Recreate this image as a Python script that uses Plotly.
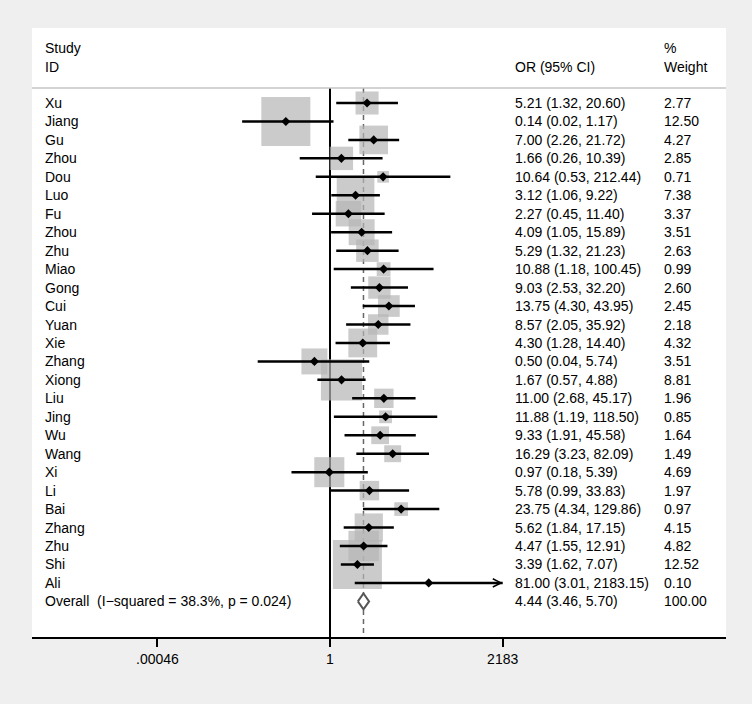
import numpy as np
import plotly.graph_objects as go

# ---------------- data ----------------
studies = ["Xu", "Jiang", "Gu", "Zhou", "Dou", "Luo", "Fu", "Zhou", "Zhu", "Miao",
           "Gong", "Cui", "Yuan", "Xie", "Zhang", "Xiong", "Liu", "Jing", "Wu", "Wang",
           "Xi", "Li", "Bai", "Zhang", "Zhu", "Shi", "Ali"]
or_est = [5.21, 0.14, 7.00, 1.66, 10.64, 3.12, 2.27, 4.09, 5.29, 10.88,
          9.03, 13.75, 8.57, 4.30, 0.50, 1.67, 11.00, 11.88, 9.33, 16.29,
          0.97, 5.78, 23.75, 5.62, 4.47, 3.39, 81.00]
ci_low = [1.32, 0.02, 2.26, 0.26, 0.53, 1.06, 0.45, 1.05, 1.32, 1.18,
          2.53, 4.30, 2.05, 1.28, 0.04, 0.57, 2.68, 1.19, 1.91, 3.23,
          0.18, 0.99, 4.34, 1.84, 1.55, 1.62, 3.01]
ci_high = [20.60, 1.17, 21.72, 10.39, 212.44, 9.22, 11.40, 15.89, 21.23, 100.45,
           32.20, 43.95, 35.92, 14.40, 5.74, 4.88, 45.17, 118.50, 45.58, 82.09,
           5.39, 33.83, 129.86, 17.15, 12.91, 7.07, 2183.15]
weights = [2.77, 12.50, 4.27, 2.85, 0.71, 7.38, 3.37, 3.51, 2.63, 0.99,
           2.60, 2.45, 2.18, 4.32, 3.51, 8.81, 1.96, 0.85, 1.64, 1.49,
           4.69, 1.97, 0.97, 4.15, 4.82, 12.52, 0.10]
overall_label = "Overall\u00a0\u00a0(I\u2212squared = 38.3%, p = 0.024)"
overall_est, overall_low, overall_high, overall_weight = 4.44, 3.46, 5.70, 100.00
null_value = 1
tick_vals = [0.00046, 1, 2183]
tick_text = [".00046", "1", "2183"]

# ---------------- layout constants ----------------
FONT = "Liberation Sans, Arial, Helvetica, sans-serif"
FS = 14
n = len(studies)
rows = list(range(n))
overall_row = n
y_top, y_bottom = -4.063, 28.93
sep_y = -0.813
x_range = [-5.762, 7.657]
BOX_K = 13.86  # px per sqrt(weight)

fig = go.Figure()

# reference line (OR = 1) and dashed overall line, below the boxes
fig.add_trace(go.Scatter(x=[null_value, null_value], y=[sep_y, y_bottom], mode="lines",
                         line=dict(color="black", width=2), hoverinfo="skip", showlegend=False))
fig.add_trace(go.Scatter(x=[overall_est, overall_est], y=[sep_y, y_bottom], mode="lines",
                         line=dict(color="#666666", width=1.5, dash="5px,4px"),
                         hoverinfo="skip", showlegend=False))

# weight boxes
fig.add_trace(go.Scatter(x=or_est, y=rows, mode="markers",
                         marker=dict(symbol="square", color="#b5b5b5",
                                     size=[BOX_K * np.sqrt(w) for w in weights],
                                     line=dict(width=0)),
                         hoverinfo="skip", showlegend=False))

# confidence interval lines
cx, cy = [], []
for i in rows:
    cx += [ci_low[i], ci_high[i], None]
    cy += [i, i, None]
fig.add_trace(go.Scatter(x=cx, y=cy, mode="lines", line=dict(color="black", width=2.5),
                         hoverinfo="skip", showlegend=False))

# point estimates
fig.add_trace(go.Scatter(x=or_est, y=rows, mode="markers",
                         marker=dict(symbol="diamond", color="black", size=7),
                         hoverinfo="skip", showlegend=False))

# overall diamond
h = 0.43
fig.add_trace(go.Scatter(x=[overall_low, overall_est, overall_high, overall_est, overall_low],
                         y=[overall_row, overall_row - h, overall_row, overall_row + h, overall_row],
                         mode="lines", fill="toself", fillcolor="white",
                         line=dict(color="#555555", width=2),
                         hoverinfo="skip", showlegend=False))

# arrow for CI exceeding the axis
ali = n - 1
fig.add_annotation(x=np.log10(ci_high[ali]), y=ali, xref="x", yref="y",
                   ax=-25, ay=0, text="", showarrow=True, arrowhead=5,
                   arrowsize=0.8, arrowwidth=2, arrowcolor="black", standoff=0)

# ---------------- text columns ----------------
col_label, col_or, col_w = 0.0159, 0.6931, 0.9078

def txt(x, y, s):
    fig.add_annotation(x=x, y=y, xref="paper", yref="y", text=s, showarrow=False,
                       xanchor="left", yanchor="middle",
                       font=dict(family=FONT, size=FS, color="black"))

txt(col_label, -2.98, "Study")
txt(col_label, -1.95, "ID")
txt(col_or, -1.95, "OR (95% CI)")
txt(col_w, -2.98, "%")
txt(col_w, -1.95, "Weight")

for i in rows:
    txt(col_label, i, studies[i])
    txt(col_or, i, f"{or_est[i]:.2f} ({ci_low[i]:.2f}, {ci_high[i]:.2f})")
    txt(col_w, i, f"{weights[i]:.2f}")

txt(col_label, overall_row, overall_label)
txt(col_or, overall_row, f"{overall_est:.2f} ({overall_low:.2f}, {overall_high:.2f})")
txt(col_w, overall_row, f"{overall_weight:.2f}")

# header separator
fig.add_shape(type="line", xref="paper", yref="y", x0=0, x1=1, y0=sep_y, y1=sep_y,
              line=dict(color="#c4c4c4", width=1.5))

fig.update_layout(
    width=752, height=704,
    margin=dict(l=32, r=26, t=28, b=67),
    paper_bgcolor="#efefef", plot_bgcolor="white",
    font=dict(family=FONT, size=FS, color="black"),
    showlegend=False,
    xaxis=dict(type="log", range=x_range, showgrid=False, zeroline=False,
               showline=True, linecolor="black", linewidth=2,
               ticks="outside", ticklen=8, tickwidth=1.5, tickcolor="black",
               tickvals=tick_vals, ticktext=tick_text,
               tickfont=dict(family=FONT, size=FS, color="black")),
    yaxis=dict(range=[y_bottom, y_top], visible=False, showgrid=False, zeroline=False),
)

fig.write_html("out.html", config={"displayModeBar": False},
               post_script="document.body.style.margin='0';document.body.style.background='#efefef';")
